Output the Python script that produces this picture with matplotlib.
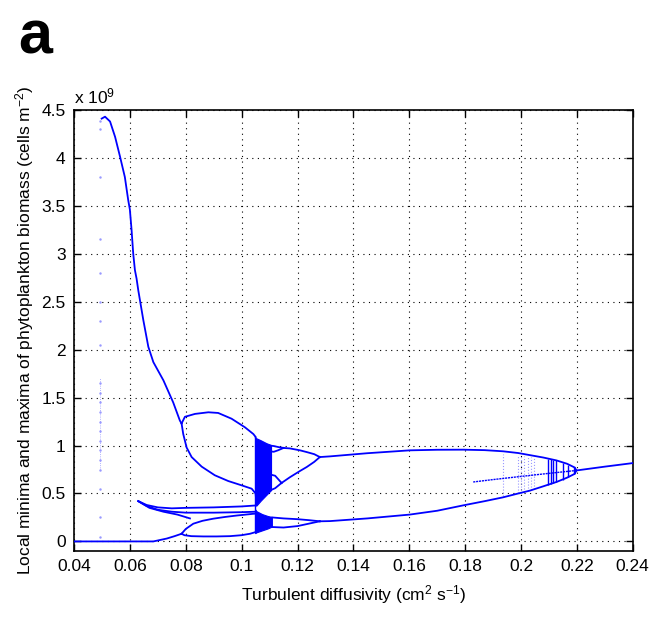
import numpy as np
import matplotlib
matplotlib.use('Agg')
import matplotlib.pyplot as plt

plt.rcParams['font.family'] = ['Liberation Sans', 'DejaVu Sans']
plt.rcParams['mathtext.fontset'] = 'custom'
plt.rcParams['mathtext.rm'] = 'Liberation Sans'
plt.rcParams['mathtext.it'] = 'Liberation Sans:italic'

BLUE = '#0000FF'
FAINT = '#9999FF'

# ── branches (x: cm2/s, y: 1e9 cells/m2) ───
main_x = [0.0499, 0.0511, 0.0529, 0.0547, 0.0565, 0.0582, 0.0594, 0.0600,
          0.0606, 0.0612, 0.0618, 0.0624, 0.0630, 0.0648, 0.0666, 0.0684,
          0.0720, 0.0755, 0.0779, 0.0785]
main_y = [4.41, 4.43, 4.38, 4.22, 4.01, 3.80, 3.56, 3.46, 3.25, 3.00, 2.83,
          2.74, 2.62, 2.31, 2.03, 1.87, 1.68, 1.45, 1.26, 1.23]

uloop_x = [0.0785, 0.0797, 0.0833, 0.0881, 0.0916, 0.0964, 0.1012, 0.1042, 0.1050, 0.1052]
uloop_y = [1.23, 1.30, 1.33, 1.347, 1.34, 1.28, 1.19, 1.12, 1.09, 1.06]
lloop_x = [0.0785, 0.0791, 0.0803, 0.0821, 0.0857, 0.0904, 0.0952, 0.1000, 0.1036, 0.1050, 0.1052]
lloop_y = [1.23, 1.12, 0.98, 0.88, 0.78, 0.69, 0.63, 0.585, 0.55, 0.50, 0.43]

zero_x = [0.040, 0.0684, 0.0732, 0.0760, 0.0785]
zero_y = [0.0, 0.0, 0.03, 0.055, 0.08]
zb_top_x = [0.0785, 0.0800, 0.0827, 0.0860, 0.0898, 0.0940, 0.0982, 0.1041, 0.1053]
zb_top_y = [0.08, 0.13, 0.185, 0.215, 0.237, 0.255, 0.27, 0.288, 0.29]
zb_bot_x = [0.0785, 0.0795, 0.0820, 0.0863, 0.0910, 0.0958, 0.1000, 0.1030, 0.1053]
zb_bot_y = [0.08, 0.065, 0.055, 0.052, 0.052, 0.055, 0.065, 0.08, 0.10]

spk_a_x = [0.063, 0.066, 0.070, 0.075, 0.080, 0.090, 0.100, 0.105]
spk_a_y = [0.42, 0.38, 0.355, 0.345, 0.350, 0.355, 0.365, 0.375]
spk_b_x = [0.063, 0.066, 0.070, 0.075, 0.080, 0.090, 0.100, 0.105]
spk_b_y = [0.42, 0.37, 0.33, 0.31, 0.30, 0.30, 0.305, 0.31]
spk_c_x = [0.063, 0.067, 0.072, 0.077, 0.0815]
spk_c_y = [0.42, 0.35, 0.31, 0.28, 0.24]

# chaotic bands just above 0.105
band_x = [0.1050, 0.1055, 0.1070, 0.1090, 0.1107]
band_top = [1.07, 1.07, 1.05, 1.02, 1.00]
band_bot = [0.37, 0.37, 0.42, 0.48, 0.53]
lband_x = [0.1050, 0.1055, 0.1075, 0.1095, 0.1110]
lband_top = [0.33, 0.31, 0.28, 0.26, 0.25]
lband_bot = [0.08, 0.09, 0.11, 0.13, 0.15]

ub_top_x = [0.1100, 0.1115, 0.1130, 0.1150]
ub_top_y = [1.00, 0.995, 0.985, 0.975]
ub_bot_x = [0.1100, 0.1115, 0.1130, 0.1150]
ub_bot_y = [0.94, 0.935, 0.950, 0.975]
lb_top_x = [0.1100, 0.1120, 0.1143]
lb_top_y = [0.70, 0.685, 0.61]
lb_bot_x = [0.1100, 0.1120, 0.1143]
lb_bot_y = [0.53, 0.555, 0.61]

br_up_x = [0.1150, 0.1173, 0.1209, 0.1233, 0.1260, 0.1280]
br_up_y = [0.975, 0.970, 0.950, 0.932, 0.910, 0.880]
br_lo_x = [0.1143, 0.1173, 0.1209, 0.1233, 0.1260, 0.1280]
br_lo_y = [0.61, 0.67, 0.735, 0.776, 0.830, 0.880]
lb2_up_x = [0.1110, 0.1150, 0.1200, 0.1240, 0.1280]
lb2_up_y = [0.250, 0.240, 0.232, 0.222, 0.210]
lb2_lo_x = [0.1110, 0.1150, 0.1200, 0.1240, 0.1280]
lb2_lo_y = [0.150, 0.145, 0.160, 0.185, 0.210]

# big period-2 loop on the right
rt_x = [0.1280, 0.1316, 0.1450, 0.1602, 0.1700, 0.1793, 0.1870, 0.1936,
        0.1990, 0.2032, 0.2080, 0.2127, 0.2165, 0.2193, 0.2198]
rt_y = [0.880, 0.887, 0.920, 0.950, 0.956, 0.957, 0.952, 0.940, 0.922,
        0.900, 0.875, 0.845, 0.810, 0.770, 0.740]
rb_x = [0.1280, 0.1316, 0.1450, 0.1602, 0.1700, 0.1793, 0.1870, 0.1936,
        0.1990, 0.2032, 0.2080, 0.2127, 0.2165, 0.2193, 0.2198]
rb_y = [0.210, 0.212, 0.240, 0.280, 0.320, 0.376, 0.420, 0.460, 0.500,
        0.530, 0.575, 0.620, 0.665, 0.706, 0.740]
tail_x = [0.2198, 0.2300, 0.2400]
tail_y = [0.740, 0.780, 0.817]
inner_x = [0.1829, 0.1900, 0.2000, 0.2100, 0.2198]
inner_y = [0.620, 0.645, 0.678, 0.710, 0.740]

faint_x = [0.1937, 0.1990, 0.2000, 0.2012, 0.2024, 0.2036, 0.2048]
faint_lo = [0.47, 0.505, 0.51, 0.52, 0.53, 0.54, 0.55]
faint_hi = [0.91, 0.895, 0.89, 0.89, 0.885, 0.88, 0.875]
dark_x = [0.2095, 0.2108, 0.2116, 0.2124, 0.2150, 0.2170, 0.2190]
dark_lo = [0.590, 0.600, 0.610, 0.615, 0.645, 0.670, 0.700]
dark_hi = [0.860, 0.855, 0.850, 0.845, 0.820, 0.800, 0.775]

# sparse transient dots near 0.049
dot_x = 0.0493
dot_y = [0.05, 0.25, 0.55, 0.75, 0.85, 0.95, 1.05, 1.15, 1.25, 1.35, 1.45,
         1.55, 1.65, 2.05, 2.3, 2.5, 2.8, 3.15, 3.8, 4.3, 4.38]

fig = plt.figure(figsize=(6.55, 6.21), dpi=100)
ax = fig.add_axes([0.113, 0.1127, 0.853, 0.7102])

lw = 1.3
for xs, ys in [(main_x, main_y), (uloop_x, uloop_y), (lloop_x, lloop_y),
               (zero_x, zero_y), (zb_top_x, zb_top_y), (zb_bot_x, zb_bot_y),
               (spk_a_x, spk_a_y), (spk_b_x, spk_b_y), (spk_c_x, spk_c_y),
               (ub_top_x, ub_top_y), (ub_bot_x, ub_bot_y),
               (lb_top_x, lb_top_y), (lb_bot_x, lb_bot_y),
               (br_up_x, br_up_y), (br_lo_x, br_lo_y),
               (lb2_up_x, lb2_up_y), (lb2_lo_x, lb2_lo_y),
               (rt_x, rt_y), (rb_x, rb_y), (tail_x, tail_y)]:
    ax.plot(xs, ys, color=BLUE, lw=lw, zorder=3, solid_joinstyle='round')

ax.plot(inner_x, inner_y, color=BLUE, lw=1.0, ls=(0, (1.5, 0.6)), zorder=3)
for bx, lo, hi in [(band_x, band_bot, band_top), (lband_x, lband_bot, lband_top)]:
    ax.fill(list(bx) + list(bx)[::-1], list(hi) + list(lo)[::-1],
            facecolor=BLUE, edgecolor=BLUE, lw=0.8, zorder=3)
ax.vlines(0.1048, 0.10, 1.10, color=BLUE, lw=1.0, zorder=3)
ax.vlines(faint_x, faint_lo, faint_hi, color=FAINT, lw=0.8, ls=':', zorder=2)
ax.vlines(dark_x, dark_lo, dark_hi, color=BLUE, lw=1.0, zorder=3)
ax.plot([dot_x] * len(dot_y), dot_y, ls='none', marker='.', ms=1.5,
        color=FAINT, zorder=2)
ax.vlines(dot_x, 0.75, 1.7, color=FAINT, lw=0.6, ls=':', zorder=2)

ax.set_xlim(0.04, 0.24)
ax.set_ylim(-0.1, 4.5)
ax.set_xticks(np.arange(0.04, 0.2401, 0.02))
ax.set_xticklabels(['0.04', '0.06', '0.08', '0.1', '0.12', '0.14', '0.16',
                    '0.18', '0.2', '0.22', '0.24'])
ax.set_yticks(np.arange(0, 4.51, 0.5))
ax.set_yticklabels(['0', '0.5', '1', '1.5', '2', '2.5', '3', '3.5', '4', '4.5'])
ax.tick_params(direction='in', top=True, right=True, length=5, width=1,
               labelsize=12.5, pad=6)
ax.grid(True, color='black', ls=(0, (1, 4)), lw=0.8)
for sp in ax.spines.values():
    sp.set_linewidth(1.2)

ax.set_xlabel('Turbulent diffusivity (cm$^{2}$ s$^{-1}$)', fontsize=12.5, labelpad=6)
ax.set_ylabel('Local minima and maxima of phytoplankton biomass (cells m$^{-2}$)',
              fontsize=12.5, labelpad=4)
ax.text(0.0, 1.008, 'x 10$^{9}$', transform=ax.transAxes, fontsize=12.5,
        ha='left', va='bottom')
fig.text(0.028, 0.985, 'a', fontsize=44, fontweight='bold', ha='left', va='top')

fig.savefig('out.png', dpi=100, facecolor='white')
